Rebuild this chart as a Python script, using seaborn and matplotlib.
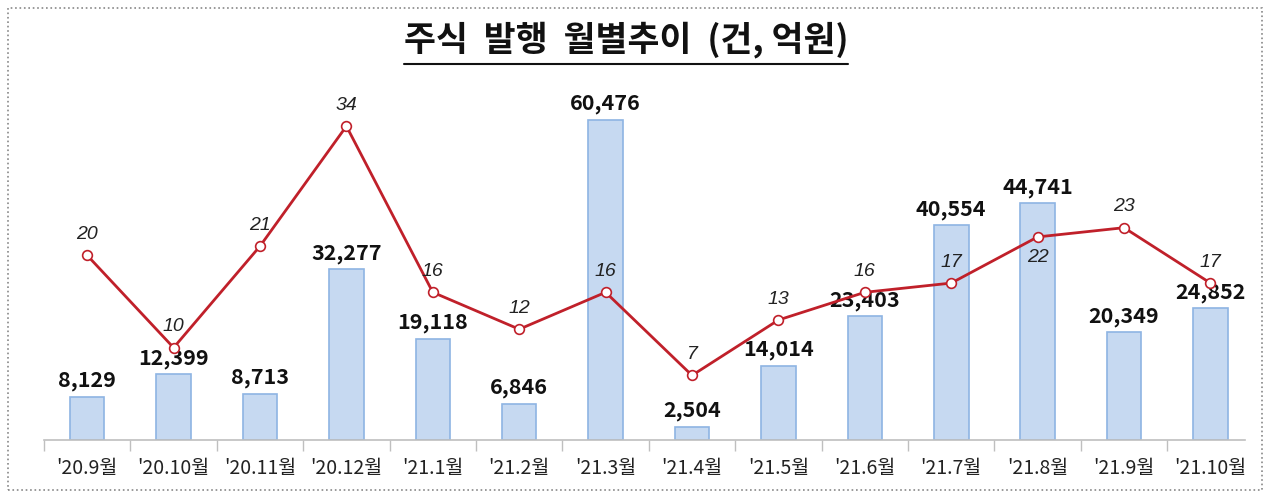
import numpy as np
import pandas as pd
import matplotlib
matplotlib.use("Agg")
import matplotlib.pyplot as plt
import matplotlib.patches as patches
import seaborn as sns

# --- datos ---
meses = ["'20.9월", "'20.10월", "'20.11월", "'20.12월", "'21.1월", "'21.2월", "'21.3월",
         "'21.4월", "'21.5월", "'21.6월", "'21.7월", "'21.8월", "'21.9월", "'21.10월"]
금액 = [8129, 12399, 8713, 32277, 19118, 6846, 60476, 2504, 14014, 23403, 40554, 44741, 20349, 24852]
건수 = [20, 10, 21, 34, 16, 12, 16, 7, 13, 16, 17, 22, 23, 17]

sns.set_theme(style="white")
plt.rcParams['font.family'] = ['Noto Sans CJK KR', 'DejaVu Sans']

color_barra = "#C6D9F1"
color_borde = "#8EB4E3"
color_linea = "#C0202A"

fig = plt.figure(figsize=(12.8, 5.04), dpi=100)
ax = fig.add_axes([44 / 1280, (504 - 440) / 504, (1245 - 44) / 1280, 360 / 504])

df = pd.DataFrame({"mes": meses, "monto": 금액})
sns.barplot(data=df, x="mes", y="monto", ax=ax, color=color_barra, width=0.4,
            edgecolor=color_borde, linewidth=1.2, saturation=1)
ax.set_xlim(-0.5, 13.4)
ax.set_ylim(0, 68000)
ax.set_xlabel("")
ax.set_ylabel("")
ax.set_yticks([])
for s in ["top", "left", "right"]:
    ax.spines[s].set_visible(False)
ax.spines["bottom"].set_color("#BFBFBF")
ax.spines["bottom"].set_linewidth(1.2)
ax.set_xticks(np.arange(-0.5, 13, 1.0), minor=True)
ax.tick_params(axis="x", which="major", length=0, pad=13, labelsize=14, colors="#222222")
ax.tick_params(axis="x", which="minor", length=8, width=1, color="#BFBFBF", bottom=True)

for i, v in enumerate(금액):
    ax.annotate(f"{v:,}", (i, v), xytext=(0, 4), textcoords="offset points",
                ha="center", va="bottom", fontsize=15.5, fontweight="bold", color="#111111")

ax2 = ax.twinx()
sns.lineplot(x=np.arange(len(건수)), y=건수, ax=ax2, color=color_linea, linewidth=2,
             marker="o", markersize=7, markerfacecolor="white",
             markeredgecolor=color_linea, markeredgewidth=1.2)
ax2.set_ylim(0, 39)
ax2.set_xlim(-0.5, 13.4)
ax2.set_yticks([])
for s in ["top", "left", "right", "bottom"]:
    ax2.spines[s].set_visible(False)

for i, v in enumerate(건수):
    if i == 11:
        off, va = -9, "top"
    else:
        off, va = 9, "bottom"
    ax2.annotate(str(v), (i, v), xytext=(0, off), textcoords="offset points",
                 ha="center", va=va, fontsize=14, style="italic", color="#222222",
                 family=["Liberation Sans", "DejaVu Sans"])

# --- título subrayado ---
titulo = fig.text(0.489, (504 - 40) / 504, "주식  발행  월별추이  (건, 억원)", ha="center", va="center",
                  fontsize=25, fontweight="bold", color="#111111")
fig.canvas.draw()
bb = titulo.get_window_extent().transformed(fig.transFigure.inverted())
fig.add_artist(plt.Line2D([bb.x0, bb.x1], [(504 - 64) / 504] * 2, transform=fig.transFigure,
                          color="#111111", linewidth=1.5))

# marco punteado
fig.add_artist(patches.Rectangle((8 / 1280, 14 / 504), 1254 / 1280, 482 / 504, transform=fig.transFigure,
                                 fill=False, edgecolor="#888888", linestyle=":", linewidth=1.2))

fig.savefig("out.png", dpi=100)
